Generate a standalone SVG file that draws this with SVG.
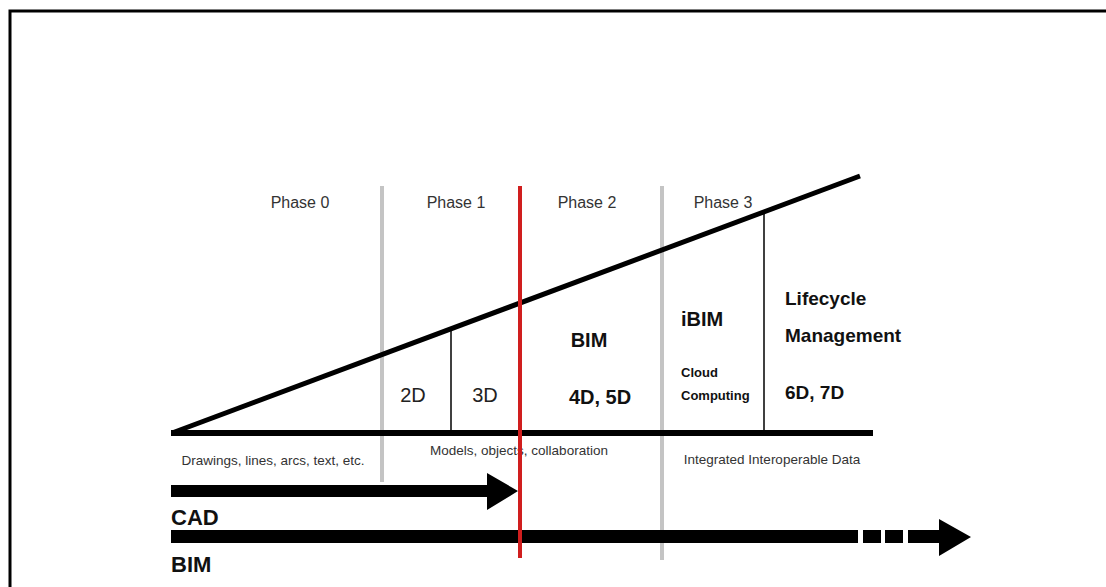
<svg xmlns="http://www.w3.org/2000/svg" width="1106" height="587" viewBox="0 0 1106 587">
<style>
.lbl{font-family:"Liberation Sans",Arial,sans-serif;fill:#222}
.ph{font-size:16px;text-anchor:middle;fill:#333}
.dim{font-size:20px;text-anchor:middle;fill:#222}
.b{font-weight:bold;fill:#111}
.sm{font-size:13.5px;text-anchor:middle;fill:#333}
.gray{stroke:#c4c4c4;stroke-width:4}
.blk{stroke:#000;fill:none}
</style>
<rect width="1106" height="587" fill="#fff"/>
<g id="frame">
<path d="M10,587 V11 H1106" class="blk" stroke-width="3"/>
</g>
<g id="connectors">
<line x1="382" y1="186" x2="382" y2="482" class="gray"/>
<line x1="662" y1="186" x2="662" y2="560" class="gray"/>
<line x1="171" y1="433" x2="873" y2="433" class="blk" stroke-width="6"/>
<line x1="172" y1="433" x2="860" y2="176" class="blk" stroke-width="5"/>
<line x1="451" y1="331" x2="451" y2="433" class="blk" stroke-width="1.5"/>
<line x1="764" y1="210" x2="764" y2="433" class="blk" stroke-width="1.5"/>
<polygon points="171,485 487,485 487,473 518,491 487,510 487,497 171,497" fill="#000"/>
<rect x="171" y="530" width="687" height="13" fill="#000"/>
<rect x="863" y="530" width="18" height="13" fill="#000"/>
<rect x="885" y="530" width="18" height="13" fill="#000"/>
<polygon points="908,530 939,530 939,519 971,537 939,556 939,543 908,543" fill="#000"/>
</g>
<g id="phases">
<text class="lbl ph" x="300" y="208">Phase 0</text>
<text class="lbl ph" x="456" y="208">Phase 1</text>
<text class="lbl ph" x="587" y="208">Phase 2</text>
<text class="lbl ph" x="723" y="208">Phase 3</text>
</g>
<g id="phase1">
<text class="lbl dim" x="413" y="402">2D</text>
<text class="lbl dim" x="485" y="402">3D</text>
</g>
<g id="phase2">
<text class="lbl dim b" x="589" y="347">BIM</text>
<text class="lbl dim b" x="600" y="404">4D, 5D</text>
</g>
<g id="phase3">
<text class="lbl b" x="681" y="326" font-size="20">iBIM</text>
<text class="lbl b" x="681" y="377" font-size="13">Cloud</text>
<text class="lbl b" x="681" y="400" font-size="13">Computing</text>
</g>
<g id="lifecycle">
<text class="lbl b" x="785" y="305" font-size="19">Lifecycle</text>
<text class="lbl b" x="785" y="342" font-size="19">Management</text>
<text class="lbl b" x="785" y="399" font-size="19">6D, 7D</text>
</g>
<g id="captions">
<text class="lbl sm" x="273" y="465">Drawings, lines, arcs, text, etc.</text>
<text class="lbl sm" x="519" y="455">Models, objects, collaboration</text>
<text class="lbl sm" x="772" y="464">Integrated Interoperable Data</text>
</g>
<g id="red-divider">
<line x1="520" y1="186" x2="520" y2="558" stroke="#d01e1e" stroke-width="4"/>
</g>
<g id="arrow-labels">
<text class="lbl b" x="171" y="525" font-size="22" fill="#000">CAD</text>
<text class="lbl b" x="171" y="572" font-size="22" fill="#000">BIM</text>
</g>
</svg>
